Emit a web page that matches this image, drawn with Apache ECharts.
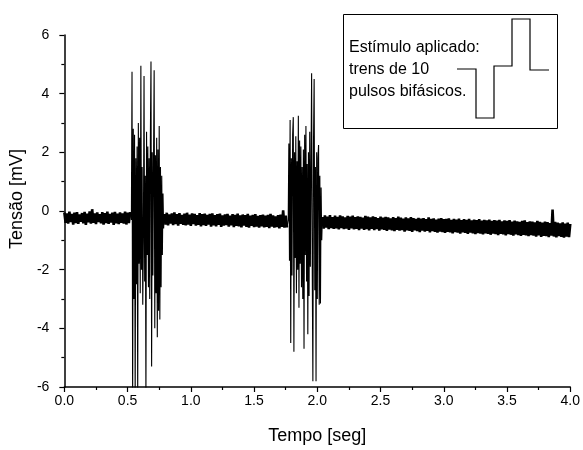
<!DOCTYPE html>
<html>
<head>
<meta charset="utf-8">
<script src="https://cdn.jsdelivr.net/npm/echarts@6/dist/echarts.min.js"></script>
<style>
html,body{margin:0;padding:0;background:#fff;}
#chart{width:583px;height:450px;}
</style>
</head>
<body>
<div id="chart"></div>
<script>
// ---- Data ----
var xAxisTitle = "Tempo [seg]";
var yAxisTitle = "Tensão [mV]";
var noteLines = ["Estímulo aplicado:", "trens de 10", "pulsos bifásicos."];

// baseline sampled every 0.01 s
var baseDt = 0.01;
var baseAStart = 0.00;
var baselineA = [
-0.05,-0.40,-0.08,-0.43,-0.02,-0.38,-0.10,-0.46,-0.06,-0.41,
-0.04,-0.44,-0.12,-0.37,-0.07,-0.42,-0.03,-0.47,-0.09,-0.39,
-0.01,-0.43,0.06,-0.40,-0.08,-0.45,-0.05,-0.38,-0.11,-0.42,
-0.04,-0.46,-0.07,-0.41,-0.02,-0.44,-0.10,-0.39,-0.06,-0.47,
-0.03,-0.42,-0.09,-0.45,-0.05,-0.40,-0.08,-0.43,-0.02,-0.46,
-0.06,-0.41,-0.04];
var baseBStart = 0.79;
var baselineB = [
-0.10,-0.46,-0.06,-0.49,-0.12,-0.43,-0.08,-0.48,-0.05,-0.45,
-0.11,-0.50,-0.07,-0.44,-0.13,-0.47,-0.09,-0.49,-0.06,-0.46,
-0.12,-0.51,-0.08,-0.45,-0.10,-0.50,-0.14,-0.47,-0.07,-0.52,
-0.11,-0.48,-0.09,-0.51,-0.13,-0.46,-0.10,-0.53,-0.08,-0.49,
-0.14,-0.52,-0.11,-0.47,-0.09,-0.54,-0.15,-0.50,-0.12,-0.48,
-0.10,-0.53,-0.16,-0.49,-0.11,-0.55,-0.13,-0.51,-0.09,-0.52,
-0.15,-0.56,-0.12,-0.50,-0.14,-0.54,-0.10,-0.57,-0.16,-0.51,
-0.13,-0.55,-0.11,-0.53,-0.17,-0.57,-0.14,-0.52,-0.12,-0.56,
-0.16,-0.54,-0.13,-0.58,-0.10,-0.53,-0.15,-0.57,-0.18,-0.55,
-0.14,-0.59,-0.12,-0.54,0.02,-0.57,-0.16,-0.56];
var baseCStart = 2.04;
var baselineC = [
-0.20,-0.60,-0.15,-0.57,-0.19,-0.62,-0.14,-0.58,-0.21,-0.61,
-0.16,-0.59,-0.20,-0.63,-0.15,-0.58,-0.18,-0.62,-0.22,-0.60,
-0.17,-0.64,-0.19,-0.59,-0.16,-0.63,-0.21,-0.61,-0.18,-0.65,
-0.20,-0.60,-0.23,-0.64,-0.17,-0.62,-0.19,-0.66,-0.22,-0.61,
-0.18,-0.65,-0.21,-0.62,-0.24,-0.67,-0.19,-0.63,-0.23,-0.64,
-0.20,-0.68,-0.22,-0.63,-0.25,-0.66,-0.21,-0.69,-0.24,-0.64,
-0.19,-0.67,-0.23,-0.65,-0.26,-0.70,-0.22,-0.66,-0.25,-0.68,
-0.21,-0.71,-0.24,-0.66,-0.27,-0.69,-0.23,-0.72,-0.26,-0.67,
-0.24,-0.70,-0.28,-0.68,-0.22,-0.73,-0.27,-0.69,-0.25,-0.71,
-0.29,-0.74,-0.26,-0.70,-0.24,-0.72,-0.28,-0.75,-0.27,-0.71,
-0.25,-0.73,-0.30,-0.76,-0.27,-0.72,-0.29,-0.74,-0.26,-0.77,
-0.31,-0.73,-0.28,-0.75,-0.30,-0.78,-0.27,-0.74,-0.32,-0.76,
-0.29,-0.79,-0.31,-0.75,-0.28,-0.77,-0.33,-0.80,-0.30,-0.76,
-0.32,-0.78,-0.29,-0.81,-0.34,-0.77,-0.31,-0.79,-0.33,-0.82,
-0.30,-0.78,-0.35,-0.80,-0.32,-0.83,-0.34,-0.79,-0.31,-0.81,
-0.36,-0.84,-0.33,-0.80,-0.35,-0.82,-0.37,-0.85,-0.34,-0.81,
-0.32,-0.83,-0.38,-0.86,-0.35,-0.82,-0.36,-0.84,-0.39,-0.87,
-0.34,-0.83,-0.37,-0.88,-0.40,-0.85,-0.36,-0.86,-0.38,-0.89,
-0.41,-0.84,0.05,-0.87,-0.37,-0.90,-0.40,-0.86,-0.42,-0.88,
-0.39,-0.91,-0.43,-0.87,-0.40,-0.89,-0.44];

// bursts sampled every 0.005 s
var burstDt = 0.005;
var burst1Start = 0.530;
var burst1 = [
-0.3,4.75,-6.5,2.8,-3.0,2.6,-6.5,1.8,-2.5,2.2,
-6.5,3.0,-1.8,2.5,-2.8,4.95,-2.0,1.5,-3.2,-1.0,
4.6,-2.4,1.2,-6.5,2.7,-1.5,2.2,-2.6,1.8,-3.0,
2.4,5.1,-5.3,2.0,-2.2,1.6,4.8,-4.0,1.9,-2.8,
2.5,-4.3,2.1,-3.4,2.9,-3.7,1.5,-2.6,1.2,-1.5,
0.6,-0.6];
var burst2Start = 1.770;
var burst2 = [
-0.3,2.3,-1.7,3.1,-4.5,1.8,-2.2,2.6,3.2,-4.8,
2.0,-1.6,2.55,-2.8,1.7,-2.0,3.25,-3.3,2.4,-1.8,
2.2,-2.6,1.5,-3.0,2.1,-4.7,2.6,-1.5,2.9,-2.4,
1.6,-4.2,2.0,-2.9,2.7,-1.9,1.4,4.7,-2.0,-5.8,
2.3,4.5,-2.7,1.5,-5.8,2.0,-3.0,1.8,2.25,-3.2,
1.2,-3.15,0.8,-1.0];

// ---- Build [t, v] pairs ----
function seg(start, dt, vals) {
  return vals.map(function (v, i) { return [+(start + i * dt).toFixed(4), v]; });
}
var baselineData = [].concat(
  seg(baseAStart, baseDt, baselineA), [[null, null]],
  seg(baseBStart, baseDt, baselineB), [[null, null]],
  seg(baseCStart, baseDt, baselineC)
);
var burstData = [].concat(
  seg(baseAStart, baseDt, baselineA).slice(-1),
  seg(burst1Start, burstDt, burst1),
  seg(baseBStart, baseDt, baselineB).slice(0, 1), [[null, null]],
  seg(baseBStart, baseDt, baselineB).slice(-1),
  seg(burst2Start, burstDt, burst2),
  seg(baseCStart, baseDt, baselineC).slice(0, 1)
);

var FONT = "'Liberation Sans', Arial, sans-serif";
var chart = echarts.init(document.getElementById('chart'));
chart.setOption({
  animation: false,
  backgroundColor: '#fff',
  grid: { left: 59, right: 11, top: 35, bottom: 57, containLabel: false },
  xAxis: {
    type: 'value', min: 0, max: 4, interval: 0.5,
    name: xAxisTitle, nameLocation: 'middle', nameGap: 40,
    nameTextStyle: { color: '#000', fontSize: 18, fontFamily: FONT },
    axisLine: { show: true, onZero: false, lineStyle: { color: '#000', width: 1.5 } },
    axisTick: { show: true, inside: false, length: 5, lineStyle: { color: '#000', width: 1.2 } },
    minorTick: { show: true, splitNumber: 2, length: 3, lineStyle: { color: '#000', width: 1.2 } },
    splitLine: { show: false },
    axisLabel: { color: '#000', fontSize: 14, fontFamily: FONT, margin: 7,
      formatter: function (v) { return v.toFixed(1); } }
  },
  yAxis: {
    type: 'value', min: -6, max: 6, interval: 2,
    name: yAxisTitle, nameLocation: 'middle', nameGap: 30,
    nameTextStyle: { color: '#000', fontSize: 18, fontFamily: FONT, padding: [0, 0, 0, 24] },
    axisLine: { show: true, onZero: false, lineStyle: { color: '#000', width: 1.5 } },
    axisTick: { show: true, inside: false, length: 5, lineStyle: { color: '#000', width: 1.2 } },
    minorTick: { show: true, splitNumber: 2, length: 3, lineStyle: { color: '#000', width: 1.2 } },
    splitLine: { show: false },
    axisLabel: { color: '#000', fontSize: 14, fontFamily: FONT, margin: 15 }
  },
  series: [{
    name: 'baseline',
    type: 'line',
    data: baselineData,
    showSymbol: false,
    symbol: 'none',
    connectNulls: false,
    clip: true,
    lineStyle: { color: '#000', width: 2.6 }
  }, {
    name: 'bursts',
    type: 'line',
    data: burstData,
    showSymbol: false,
    symbol: 'none',
    connectNulls: false,
    clip: true,
    lineStyle: { color: '#000', width: 1.1 }
  }],
  graphic: [
    { type: 'rect', shape: { x: 343.5, y: 14.5, width: 214, height: 114 },
      style: { fill: '#fff', stroke: '#000', lineWidth: 1 }, z: 100 },
    { type: 'text', left: 349, top: 40, z: 101,
      style: { text: noteLines[0], fill: '#000', font: '16px ' + FONT } },
    { type: 'text', left: 349, top: 62, z: 101,
      style: { text: noteLines[1], fill: '#000', font: '16px ' + FONT } },
    { type: 'text', left: 349, top: 84, z: 101,
      style: { text: noteLines[2], fill: '#000', font: '16px ' + FONT } },
    { type: 'polyline', z: 101,
      shape: { points: [[457,69],[476,69],[476,118],[494,118],[494,66],[512,66],[512,19],[530,19],[530,70],[549,70]] },
      style: { stroke: '#000', lineWidth: 1.2, fill: null } }
  ]
});
</script>
</body>
</html>
